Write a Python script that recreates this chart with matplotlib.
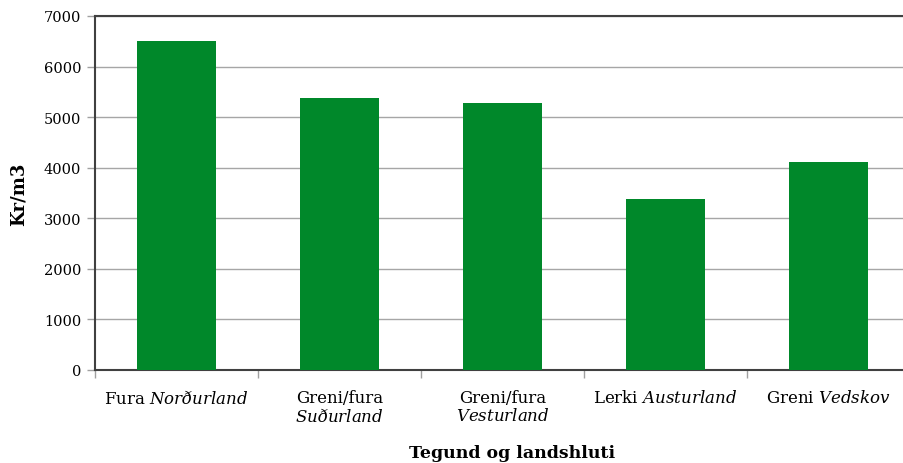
import matplotlib
matplotlib.use("Agg")
import matplotlib.pyplot as plt
import numpy as np

# verð á timbri eftir tegund og landshluta
tegund = ["Fura", "Greni/fura", "Greni/fura", "Lerki", "Greni"]
landshluti = ["Norðurland", "Suðurland", "Vesturland", "Austurland", "Vedskov"]
tvaer_linur = [False, True, True, False, False]
verd = [6500, 5380, 5280, 3380, 4110]
yticks = [0, 1000, 2000, 3000, 4000, 5000, 6000, 7000]

plt.rcParams['font.family'] = 'DejaVu Serif'
plt.rcParams['mathtext.fontset'] = 'custom'
plt.rcParams['mathtext.rm'] = 'DejaVu Serif'
plt.rcParams['mathtext.it'] = 'DejaVu Serif:italic'

labels = []
for t, l, two in zip(tegund, landshluti, tvaer_linur):
    sep = "\n" if two else " "
    labels.append(t + sep + r"$\mathit{" + l + "}$")

fig = plt.figure(figsize=(9.04, 4.64), dpi=100)
ax = fig.add_axes([95 / 904, 1 - 371 / 464, 815 / 904, 354 / 464])

x = np.arange(len(verd))
ax.bar(x, verd, width=0.485, color="#00882a", zorder=3)

ax.set_xlim(-0.5, len(verd) - 0.5)
ax.set_ylim(0, 7000)
ax.set_yticks(yticks)
ax.set_yticklabels([str(v) for v in yticks], fontsize=10.5)
ax.yaxis.grid(True, color="#a6a6a6", linewidth=1, zorder=0)
ax.axhline(7000, color="#404040", linewidth=1.5, zorder=4, clip_on=False)

# flokkamerki undir súlunum, merkjastrik á milli flokka
ax.set_xticks(x)
ax.set_xticklabels(labels, fontsize=12, linespacing=1.05, va="top")
ax.tick_params(axis="x", length=0, pad=14)
ax.set_xticks(np.arange(len(verd) + 1) - 0.5, minor=True)
ax.tick_params(axis="x", which="minor", length=6, color="#a0a0a0", width=1)
ax.tick_params(axis="y", length=6, color="#a0a0a0", width=1, pad=4)

for s in ["top", "right"]:
    ax.spines[s].set_visible(False)
for s in ["left", "bottom"]:
    ax.spines[s].set_color("#404040")
    ax.spines[s].set_linewidth(1.5)

ax.set_ylabel("Kr/m3", fontsize=13, fontweight="bold")
ax.yaxis.set_label_coords(-0.083, 0.5)
ax.set_xlabel("Tegund og landshluti", fontsize=12.5, fontweight="bold")
ax.xaxis.set_label_coords(0.512, -0.208)

fig.savefig("out.png", dpi=100)
